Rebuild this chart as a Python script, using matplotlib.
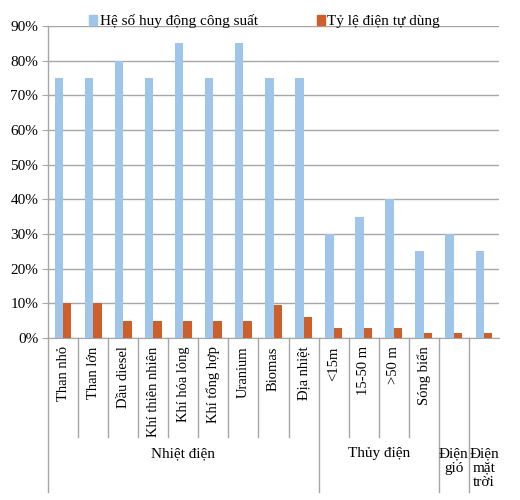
import numpy as np
import matplotlib
matplotlib.use("Agg")
import matplotlib.pyplot as plt
from matplotlib.ticker import PercentFormatter
from matplotlib.patches import Patch

plt.rcParams['font.family'] = ['Liberation Serif', 'DejaVu Serif']
plt.rcParams['font.size'] = 10.5

categories = ["Than nhỏ", "Than lớn", "Dầu diesel", "Khí thiên nhiên", "Khí hóa lỏng",
              "Khí tổng hợp", "Uranium", "Biomas", "Địa nhiệt", "<15m", "15-50 m",
              ">50 m", "Sóng biển", "", ""]
he_so = [75, 75, 80, 75, 85, 75, 85, 75, 75, 30, 35, 40, 25, 30, 25]
ty_le = [10, 10, 5, 5, 5, 5, 5, 9.5, 6, 3, 3, 3, 1.5, 1.5, 1.5]
# groups: (label, first index, last index)
groups = [("Nhiệt điện", 0, 8), ("Thủy điện", 9, 12), ("Điện\ngió", 13, 13),
          ("Điện\nmặt\ntrời", 14, 14)]

blue = "#9fc5eb"
orange = "#cc5f2a"
grid = "#a6a6a6"

fig = plt.figure(figsize=(5.2, 5.0), dpi=100)
ax = fig.add_axes([48/520, 162/500, 451/520, 312/500])

x = np.arange(len(categories))
w = 0.28
ax.bar(x - w/2, np.array(he_so)/100, w, color=blue, zorder=3)
ax.bar(x + w/2, np.array(ty_le)/100, w, color=orange, zorder=3)

ax.set_xlim(-0.5, len(categories) - 0.5)
ax.set_ylim(0, 0.9)
ax.set_yticks(np.arange(0, 0.91, 0.1))
ax.yaxis.set_major_formatter(PercentFormatter(1.0, decimals=0))
ax.yaxis.grid(True, color=grid, linewidth=1, zorder=0)
ax.set_xticks(x)
ax.set_xticklabels(categories, rotation=90, va="top", ha="center")
ax.tick_params(axis="x", length=0, pad=6)
ax.tick_params(axis="y", length=4, color=grid, pad=3, labelsize=11)
for s in ["top", "right"]:
    ax.spines[s].set_visible(False)
ax.spines["left"].set_visible(False)
ax.spines["bottom"].set_color(grid)

trans = ax.get_xaxis_transform()
# category separators: long ones between groups, short ones inside
starts = [g[1] for g in groups]
for b in range(len(categories)):
    xb = b - 0.5
    if b in starts:
        ax.plot([xb, xb], [1, -0.494] if b == 0 else [0, -0.494], transform=trans,
                color=grid, lw=1, clip_on=False)
    else:
        ax.plot([xb, xb], [0, -0.317], transform=trans, color=grid, lw=1, clip_on=False)

for label, i0, i1 in groups:
    ax.text((i0 + i1) / 2, -0.35, label, transform=trans, ha="center", va="top",
            fontsize=11, linespacing=1.15)

handles = [Patch(color=blue, label="Hệ số huy động công suất"),
           Patch(color=orange, label="Tỷ lệ điện tự dùng")]
ax.legend(handles=handles, ncol=2, loc="center", bbox_to_anchor=(0.48, 1.015),
          frameon=False, handlelength=0.55, handleheight=0.55, handletextpad=0.15,
          columnspacing=3.85, fontsize=11, borderaxespad=0)

fig.savefig("out.png", dpi=100)
